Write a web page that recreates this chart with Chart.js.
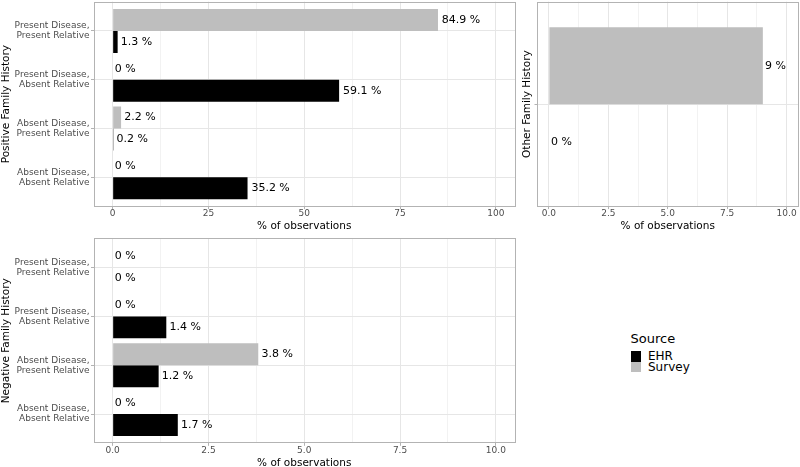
<!DOCTYPE html>
<html>
<head>
<meta charset="utf-8">
<script src="https://cdn.jsdelivr.net/npm/chart.js@4.4.0/dist/chart.umd.min.js"></script>
<style>
  html, body { margin:0; padding:0; background:#fff; width:800px; height:467px; overflow:hidden; font-family:'DejaVu Sans', sans-serif; }
  .panel { position:absolute; }
  .lg { position:absolute; white-space:nowrap; color:#000; }
  .key { position:absolute; }
</style>
</head>
<body>
<div class="panel" style="left:0;top:0;width:520px;height:235px"><canvas id="cPos"></canvas></div>
<div class="panel" style="left:510px;top:0;width:290px;height:235px"><canvas id="cOther"></canvas></div>
<div class="panel" style="left:0;top:235px;width:520px;height:232px"><canvas id="cNeg"></canvas></div>

<div class="lg" style="left:630.5px;top:331.5px;font-size:13px;line-height:13px">Source</div>
<div class="key" style="left:630.7px;top:351px;width:10.3px;height:10.5px;background:#000000"></div>
<div class="key" style="left:630.7px;top:361.5px;width:10.3px;height:10.5px;background:#bebebe"></div>
<div class="lg" style="left:648px;top:349.9px;font-size:12px;line-height:12px">EHR</div>
<div class="lg" style="left:648px;top:360.9px;font-size:12px;line-height:12px">Survey</div>

<script>
// ---------------- data ----------------
const categories = [
  ["Present Disease,", "Present Relative"],
  ["Present Disease,", "Absent Relative"],
  ["Absent Disease,", "Present Relative"],
  ["Absent Disease,", "Absent Relative"]
];
const otherCategories = [""];

const positiveSurvey = [84.9, 0, 2.2, 0];
const positiveEHR    = [1.3, 59.1, 0.2, 35.2];

const negativeSurvey = [0, 0, 3.8, 0];
const negativeEHR    = [0, 1.4, 1.2, 1.7];

const otherSurvey = [9];
const otherEHR    = [0];

const positiveTickLabels = ["0", "25", "50", "75", "100"];
const smallTickLabels    = ["0.0", "2.5", "5.0", "7.5", "10.0"];

// ---------------- styling ----------------
const FONT = "'DejaVu Sans', sans-serif";
const SURVEY_COLOR = "#bebebe";
const EHR_COLOR = "#000000";
const MAJOR_GRID = "#e6e6e6";
const MINOR_GRID = "#f2f2f2";
const BORDER = "#b3b3b3";

const valueLabels = {
  id: "valueLabels",
  afterDatasetsDraw(chart) {
    const ctx = chart.ctx;
    ctx.save();
    ctx.font = "11px " + FONT;
    ctx.fillStyle = "#000";
    ctx.textBaseline = "middle";
    ctx.textAlign = "left";
    chart.data.datasets.forEach((ds, di) => {
      const meta = chart.getDatasetMeta(di);
      meta.data.forEach((el, i) => {
        const txt = ds.data[i].x + " %";
        const w = ctx.measureText(txt).width;
        ctx.fillText(txt, el.x + 0.1 * w, el.y);
      });
    });
    ctx.restore();
  }
};

const panelBorder = {
  id: "panelBorder",
  afterDatasetsDraw(chart) {
    const {left, top, right, bottom} = chart.chartArea;
    const ctx = chart.ctx;
    ctx.save();
    ctx.strokeStyle = BORDER;
    ctx.lineWidth = 1;
    ctx.strokeRect(Math.round(left) + 0.5, Math.round(top) + 0.5, Math.round(right - left) - 1, Math.round(bottom - top) - 1);
    ctx.restore();
  }
};

function makePanel(canvasId, p) {
  const majors = p.tickLabels.map(parseFloat);
  const span = majors[majors.length - 1] - majors[0];
  const xTicks = [];
  majors.forEach((v, i) => {
    xTicks.push(v);
    if (i < majors.length - 1) xTicks.push((v + majors[i + 1]) / 2);
  });
  const isMajor = v => majors.some(m => Math.abs(m - v) < 1e-9);
  const nCat = p.cats.length;

  new Chart(document.getElementById(canvasId), {
    type: "bar",
    data: {
      datasets: [
        { label: "Survey", data: p.survey.map((v, i) => ({x: v, y: i + 1})), backgroundColor: SURVEY_COLOR },
        { label: "EHR",    data: p.ehr.map((v, i) => ({x: v, y: i + 1})),    backgroundColor: EHR_COLOR }
      ]
    },
    options: {
      indexAxis: "y",
      responsive: true,
      maintainAspectRatio: false,
      animation: false,
      events: [],
      datasets: { bar: { borderWidth: 0, barPercentage: 1, categoryPercentage: p.catPct } },
      layout: { padding: p.pad },
      plugins: { legend: { display: false }, tooltip: { enabled: false } },
      scales: {
        x: {
          type: "linear",
          position: "bottom",
          offset: false,
          min: majors[0] - 0.05 * span,
          max: majors[majors.length - 1] + 0.05 * span,
          afterBuildTicks: s => { s.ticks = xTicks.map(v => ({value: v})); },
          afterFit: s => { s.height = p.xHeight; s.paddingLeft = 0; s.paddingRight = 0; },
          border: { display: false },
          grid: {
            offset: false,
            color: c => isMajor(c.tick.value) ? MAJOR_GRID : MINOR_GRID,
            lineWidth: 1,
            drawTicks: true,
            tickLength: 2.5,
            tickWidth: 1,
            tickColor: c => isMajor(c.tick.value) ? BORDER : "rgba(0,0,0,0)"
          },
          ticks: {
            autoSkip: false, maxRotation: 0, minRotation: 0, padding: 0,
            color: "#4d4d4d",
            font: { family: FONT, size: 9, lineHeight: 1 },
            callback: v => { const k = majors.findIndex(m => Math.abs(m - v) < 1e-9); return k >= 0 ? p.tickLabels[k] : ""; }
          },
          title: {
            display: true, text: "% of observations", color: "#000",
            font: { family: FONT, size: 10.5, lineHeight: 1.2 },
            padding: { top: 0, bottom: p.xTitlePad }
          }
        },
        y: {
          type: "linear",
          position: "left",
          reverse: true,
          offset: false,
          min: 0.4,
          max: nCat + 0.6,
          afterBuildTicks: s => { s.ticks = p.cats.map((_, i) => ({value: i + 1})); },
          afterFit: s => { s.width = p.yWidth; s.paddingTop = 0; s.paddingBottom = 0; },
          border: { display: false },
          grid: {
            offset: false,
            color: MAJOR_GRID, lineWidth: 1, drawTicks: true,
            tickLength: 2.5, tickWidth: 1, tickColor: BORDER
          },
          ticks: {
            autoSkip: false, padding: 1.5,
            color: "#4d4d4d",
            font: { family: FONT, size: 9, lineHeight: 1.11 },
            callback: v => p.cats[Math.round(v) - 1]
          },
          title: {
            display: true, text: p.yTitle, color: "#000",
            font: { family: FONT, size: 10.5, lineHeight: 1.2 },
            padding: { top: p.yTitlePad, bottom: 0 }
          }
        }
      }
    },
    plugins: [valueLabels, panelBorder]
  });
}

makePanel("cPos", {
  cats: categories, survey: positiveSurvey, ehr: positiveEHR,
  tickLabels: positiveTickLabels, yTitle: "Positive Family History",
  catPct: 0.9, pad: {top: 1.7, right: 5, bottom: 0, left: 0},
  yWidth: 93.5, xHeight: 28.4, xTitlePad: 2.3, yTitlePad: 0
});

makePanel("cOther", {
  cats: otherCategories, survey: otherSurvey, ehr: otherEHR,
  tickLabels: smallTickLabels, yTitle: "Other Family History",
  catPct: 0.75, pad: {top: 1.7, right: 1.5, bottom: 0, left: 0},
  yWidth: 27, xHeight: 28.4, xTitlePad: 2.3, yTitlePad: 10.7
});

makePanel("cNeg", {
  cats: categories, survey: negativeSurvey, ehr: negativeEHR,
  tickLabels: smallTickLabels, yTitle: "Negative Family History",
  catPct: 0.9, pad: {top: 3.3, right: 5, bottom: 0, left: 0},
  yWidth: 93.5, xHeight: 23.7, xTitlePad: -2.4, yTitlePad: 0
});
</script>
</body>
</html>
